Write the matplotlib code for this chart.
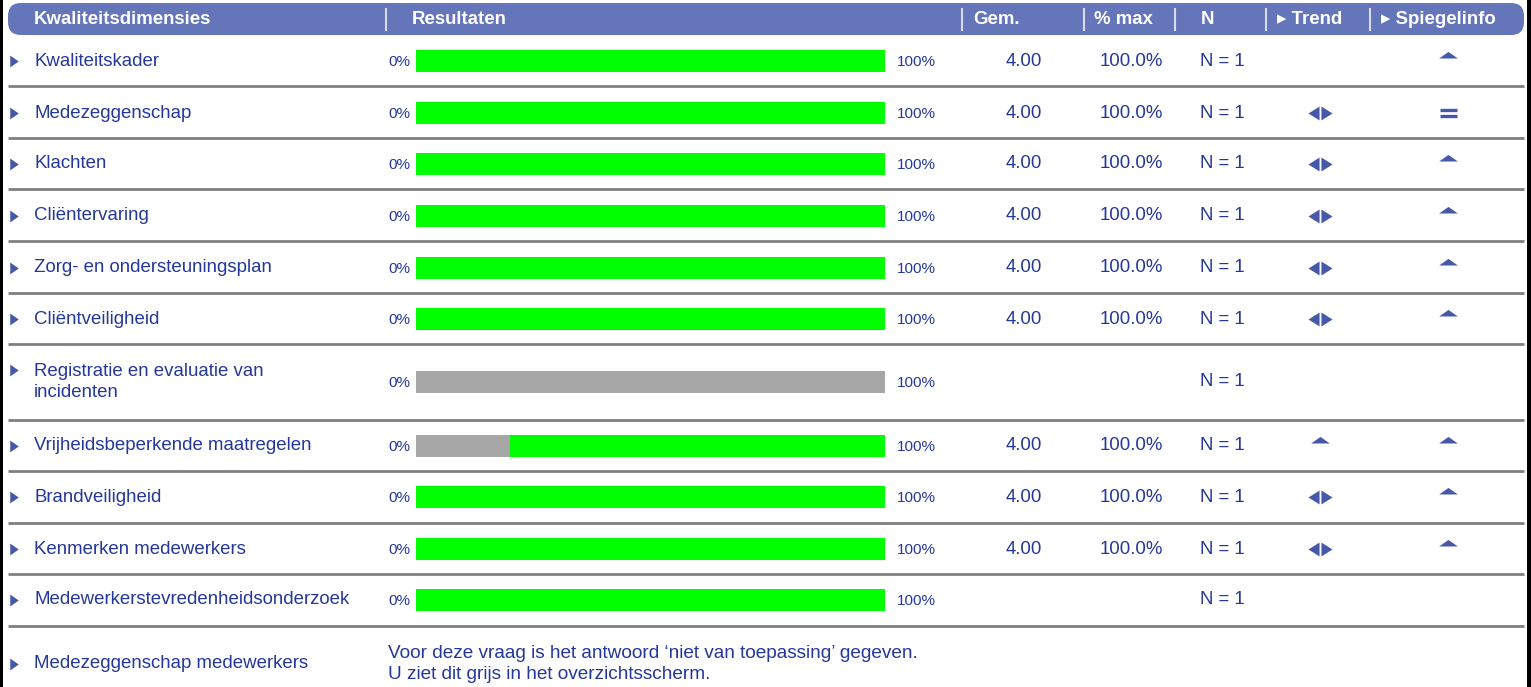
import matplotlib
matplotlib.use("Agg")
import matplotlib.pyplot as plt
from matplotlib.patches import FancyBboxPatch, Rectangle
from matplotlib.path import Path

plt.rcParams['font.family'] = ['Liberation Sans', 'DejaVu Sans']

## Data
labels = ['Kwaliteitskader', 'Medezeggenschap', 'Klachten', 'Cliëntervaring',
          'Zorg- en ondersteuningsplan', 'Cliëntveiligheid',
          'Registratie en evaluatie van\nincidenten',
          'Vrijheidsbeperkende maatregelen', 'Brandveiligheid',
          'Kenmerken medewerkers', 'Medewerkerstevredenheidsonderzoek',
          'Medezeggenschap medewerkers']
gray_pct = [0, 0, 0, 0, 0, 0, 100, 20, 0, 0, 0, None]
green_pct = [100, 100, 100, 100, 100, 100, 0, 80, 100, 100, 100, None]
gem = ['4.00', '4.00', '4.00', '4.00', '4.00', '4.00', '', '4.00', '4.00', '4.00', '', '']
pct_max = ['100.0%', '100.0%', '100.0%', '100.0%', '100.0%', '100.0%', '',
           '100.0%', '100.0%', '100.0%', '', '']
n_resp = [1, 1, 1, 1, 1, 1, 1, 1, 1, 1, 1, None]
trend = [None, 'lr', 'lr', 'lr', 'lr', 'lr', None, 'up', 'lr', 'lr', None, None]
spiegel = ['up', 'eq', 'up', 'up', 'up', 'up', None, 'up', 'up', 'up', None, None]
headers = ['Kwaliteitsdimensies', 'Resultaten', 'Gem.', '% max', 'N',
           '\u25B8 Trend', '\u25B8 Spiegelinfo']
note = ("Voor deze vraag is het antwoord \u2018niet van toepassing\u2019 gegeven.\n"
        "U ziet dit grijs in het overzichtsscherm.")

## Layout (pixels)
W, H = 1531, 687
row_y = [61, 113, 164, 216, 268, 319, 382, 446, 497, 549, 600, 664]
sep_y = [86, 138, 189, 241, 293, 344, 420, 471, 523, 574, 626]
NAVY = '#24379a'
ICON = '#4658a8'
HEAD = '#6575b9'
fs = 13.4

fig = plt.figure(figsize=(W / 100, H / 100), dpi=100)
ax = fig.add_axes([0, 0, 1, 1])
ax.set_xlim(0, W)
ax.set_ylim(H, 0)
ax.axis('off')

# borders
ax.add_patch(Rectangle((0, 0), 3, H, color='black', lw=0))
ax.add_patch(Rectangle((W - 4, 0), 4, H, color='black', lw=0))

# header band
ax.add_patch(FancyBboxPatch((8, 3), 1516, 32, boxstyle='round,pad=0,rounding_size=13',
                            color=HEAD, lw=0))
head_x = [34, 412, 973, 1094, 1201, 1277, 1381]
for hx, h in zip(head_x, headers):
    ax.text(hx, 20, h, color='white', fontsize=13.4, fontweight='bold', va='center', ha='left')
for sx in [386, 962, 1084, 1175, 1266, 1370]:
    ax.plot([sx, sx], [9, 30], color='#d8dcef', lw=1.5)

# separators
for sy in sep_y:
    ax.plot([8, 1524], [sy, sy], color='#808080', lw=2, solid_capstyle='butt')

def tri(pts):
    return Path(pts + [pts[0]], [Path.MOVETO, Path.LINETO, Path.LINETO, Path.CLOSEPOLY])

up_marker = tri([(-1, 0), (1, 0), (0, 0.7)])
bullet = tri([(-0.72, -1), (-0.72, 1), (0.72, 0)])
lr_marker = Path([(-0.08, -0.58), (-0.08, 0.58), (-1, 0), (-0.08, -0.58),
                  (0.08, -0.58), (0.08, 0.58), (1, 0), (0.08, -0.58)],
                 [Path.MOVETO, Path.LINETO, Path.LINETO, Path.CLOSEPOLY] * 2)

for i, lab in enumerate(labels):
    y = row_y[i]
    ty = y - 12 if '\n' in lab else y
    ax.plot(14, ty, marker=bullet, color=ICON, markersize=8.5, markeredgewidth=0)
    ax.text(34, y, lab, color=NAVY, fontsize=fs, va='center', ha='left', linespacing=1.3)
    if gray_pct[i] is not None:
        ax.text(410, y + 1, '0%', color=NAVY, fontsize=11, va='center', ha='right')
        ax.text(897, y + 1, '100%', color=NAVY, fontsize=11, va='center', ha='left')
    if gem[i]:
        ax.text(1024, y, gem[i], color=NAVY, fontsize=fs, va='center', ha='center')
        ax.text(1131, y, pct_max[i], color=NAVY, fontsize=fs, va='center', ha='center')
    if n_resp[i] is not None:
        ax.text(1222, y, 'N = %d' % n_resp[i], color=NAVY, fontsize=fs, va='center', ha='center')
    for cx, kind in [(1320, trend[i]), (1448, spiegel[i])]:
        if kind == 'up':
            ax.plot(cx, y - 3, marker=up_marker, color=ICON, markersize=13.5, markeredgewidth=0)
        elif kind == 'lr':
            ax.plot(cx, y, marker=lr_marker, color=ICON, markersize=17.3, markeredgewidth=0)
        elif kind == 'eq':
            ax.plot([cx - 8.5, cx + 8.5], [y - 3, y - 3], color=ICON, lw=2.4, solid_capstyle='butt')
            ax.plot([cx - 8.5, cx + 8.5], [y + 2.5, y + 2.5], color=ICON, lw=2.4, solid_capstyle='butt')

ax.text(388, 664, note, color=NAVY, fontsize=13.7, va='center', ha='left', linespacing=1.25)

# bars in percent scale
bx = fig.add_axes([416 / W, 0, (885 - 416) / W, 1])
bx.set_xlim(0, 100)
bx.set_ylim(H, 0)
bx.axis('off')
idx = [i for i in range(len(labels)) if gray_pct[i] is not None]
ys = [row_y[i] for i in idx]
bx.barh(ys, [gray_pct[i] for i in idx], left=0, height=22, color='#a6a6a6')
bx.barh(ys, [green_pct[i] for i in idx], left=[gray_pct[i] for i in idx], height=22, color='#00ff00')

fig.savefig('out.png', dpi=100)
